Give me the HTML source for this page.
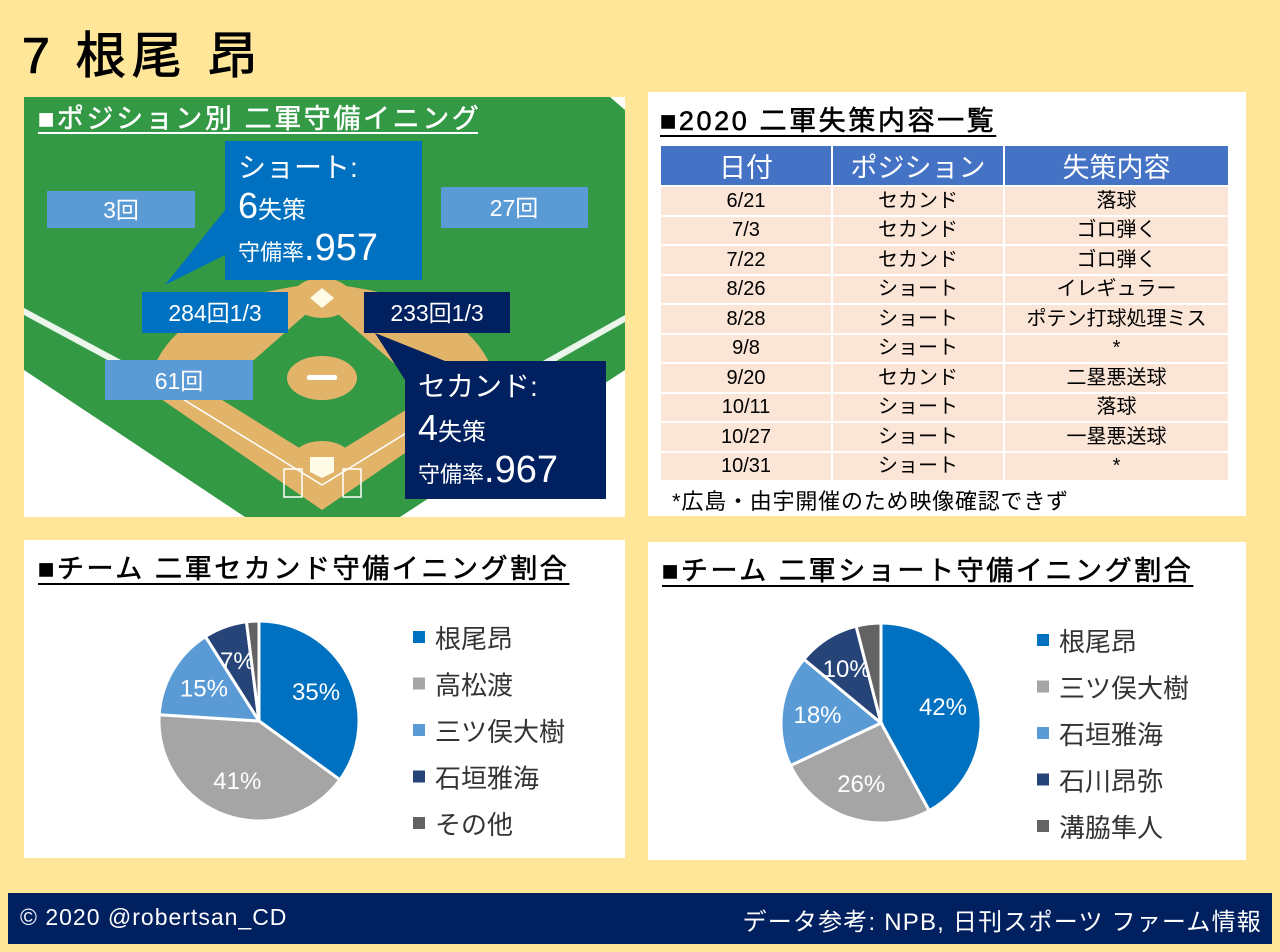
<!DOCTYPE html>
<html><head><meta charset="utf-8">
<style>
body{margin:0;width:1280px;height:952px;background:#ffe699;font-family:"Liberation Sans","Noto Sans CJK JP",sans-serif;overflow:hidden;position:relative}
.abs{position:absolute}
.panel{position:absolute;background:#fff}
.ttl{position:absolute;font-size:27px;letter-spacing:2.6px;font-weight:normal;-webkit-text-stroke:0.6px #000;color:#000;text-decoration:underline;text-decoration-thickness:2px;text-underline-offset:5px;white-space:nowrap}
table{border-collapse:collapse;position:absolute;left:659px;top:144px;width:571px;font-size:20px;text-align:center}
th{background:#4472c4;color:#fff;font-weight:normal;font-size:27px;height:34px;border:2px solid #fff;padding:0}
td{background:#fbe5d6;height:27.5px;border:2px solid #fff;padding:0;line-height:26px}
</style></head><body>
<div class="abs" style="left:22px;top:16px;font-size:50px;-webkit-text-stroke:1px #000;letter-spacing:6px">7 根尾 昂</div>

<svg class="abs" style="left:0;top:0" width="1280" height="952">
 <rect x="24" y="97" width="601" height="420" fill="#fff"/>
 <polygon points="24,97 610,97 625,110 625,370 400,517 245,517 24,370" fill="#339944"/>
 <polygon points="24,315 200,410 205,405 24,308" fill="#fff" opacity="0.9"/>
 <polygon points="625,315 500,385 505,390 625,322" fill="#fff" opacity="0.9"/>
 <path d="M148,390 Q160,300 322,283 Q485,300 497,390 L322,510 Z" fill="#e2b46a"/>
 <polygon points="322,300 430,395 322,462 214,395" fill="#339944"/>
 <ellipse cx="322" cy="298" rx="30" ry="20" fill="#e2b46a"/>
 <ellipse cx="322" cy="378" rx="35" ry="22" fill="#e2b46a"/>
 <rect x="307" y="375" width="30" height="5" rx="2" fill="#fff"/>
 <ellipse cx="322" cy="463" rx="32" ry="22" fill="#e2b46a"/>
 <polygon points="322,288 334,298 322,308 310,298" fill="#fffbe6"/>
 <polygon points="310,457 334,457 334,472 322,478 310,472" fill="#fffbe6"/>
 <rect x="284" y="469" width="18" height="28" fill="none" stroke="#fff" stroke-width="1.5"/>
 <rect x="343" y="469" width="18" height="28" fill="none" stroke="#fff" stroke-width="1.5"/>
 <line x1="322" y1="485" x2="160" y2="385" stroke="#fff" stroke-width="1.5"/>
 <line x1="322" y1="485" x2="484" y2="385" stroke="#fff" stroke-width="1.5"/>
 <text x="38" y="128" font-size="27" letter-spacing="2.6" stroke="#fff" stroke-width="0.5" fill="#fff">■ポジション別 二軍守備イニング</text>
 <rect x="38" y="132" width="440" height="2" fill="#fff"/>
 <g font-size="23" fill="#fff" text-anchor="middle">
  <rect x="47" y="191" width="148" height="37" fill="#5b9bd5"/><text x="121" y="218">3回</text>
  <rect x="441" y="187" width="147" height="41" fill="#5b9bd5"/><text x="514" y="216">27回</text>
  <rect x="105" y="360" width="148" height="40" fill="#5b9bd5"/><text x="179" y="389">61回</text>
  <polygon points="225,141 422,141 422,280 225,280 225,255 165,285 225,210" fill="#0070c0"/>
  <rect x="142" y="292" width="146" height="41" fill="#0070c0"/><text x="215" y="321">284回1/3</text>
  <polygon points="405,361 606,361 606,499 405,499 405,380 375,333 445,361" fill="#002060"/>
  <rect x="364" y="292" width="146" height="41" fill="#002060"/><text x="437" y="321">233回1/3</text>
 </g>
 <g fill="#fff">
  <text x="238" y="177" font-size="28">ショート:</text>
  <text x="238" y="218" font-size="36">6<tspan font-size="24">失策</tspan></text>
  <text x="238" y="260" font-size="22">守備率<tspan font-size="38">.957</tspan></text>
 </g>
 <g fill="#fff">
  <text x="418" y="396" font-size="28">セカンド:</text>
  <text x="418" y="440" font-size="36">4<tspan font-size="24">失策</tspan></text>
  <text x="418" y="482" font-size="22">守備率<tspan font-size="38">.967</tspan></text>
 </g>
</svg>

<div class="panel" style="left:648px;top:92px;width:598px;height:424px"></div>
<div class="ttl" style="left:660px;top:99px">■2020 二軍失策内容一覧</div>
<table>
<tr><th style="width:170px">日付</th><th style="width:170px">ポジション</th><th>失策内容</th></tr>
<tr><td>6/21</td><td>セカンド</td><td>落球</td></tr>
<tr><td>7/3</td><td>セカンド</td><td>ゴロ弾く</td></tr>
<tr><td>7/22</td><td>セカンド</td><td>ゴロ弾く</td></tr>
<tr><td>8/26</td><td>ショート</td><td>イレギュラー</td></tr>
<tr><td>8/28</td><td>ショート</td><td>ポテン打球処理ミス</td></tr>
<tr><td>9/8</td><td>ショート</td><td>*</td></tr>
<tr><td>9/20</td><td>セカンド</td><td>二塁悪送球</td></tr>
<tr><td>10/11</td><td>ショート</td><td>落球</td></tr>
<tr><td>10/27</td><td>ショート</td><td>一塁悪送球</td></tr>
<tr><td>10/31</td><td>ショート</td><td>*</td></tr>
</table>
<div class="abs" style="left:672px;top:484px;font-size:22px;letter-spacing:0.8px">*広島・由宇開催のため映像確認できず</div>

<div class="panel" style="left:24px;top:540px;width:601px;height:318px"></div>
<div class="ttl" style="left:38px;top:547px">■チーム 二軍セカンド守備イニング割合</div>
<div class="panel" style="left:648px;top:542px;width:598px;height:318px"></div>
<div class="ttl" style="left:662px;top:549px">■チーム 二軍ショート守備イニング割合</div>

<svg class="abs" style="left:0;top:0" width="1280" height="952" id="pies"></svg>

<div class="abs" style="left:8px;top:893px;width:1264px;height:51px;background:#002060"></div>
<div class="abs" style="left:20px;top:904px;font-size:23px;letter-spacing:1px;color:#fff">© 2020 @robertsan_CD</div>
<div class="abs" style="right:18px;top:902px;font-size:24px;letter-spacing:1.2px;color:#fff">データ参考: NPB, 日刊スポーツ ファーム情報</div>

<script>
const colors=["#0070c0","#a5a5a5","#5b9bd5","#264478","#636363"];
const secondNames=["根尾昂","高松渡","三ツ俣大樹","石垣雅海","その他"];
const secondValues=[35,41,15,7,2];
const shortNames=["根尾昂","三ツ俣大樹","石垣雅海","石川昂弥","溝脇隼人"];
const shortValues=[42,26,18,10,4];
const shortColors=["#0070c0","#a5a5a5","#5b9bd5","#264478","#636363"];
const NS="http://www.w3.org/2000/svg";
const svg=document.getElementById('pies');
function mk(t,a){const e=document.createElementNS(NS,t);for(const k in a)e.setAttribute(k,a[k]);svg.appendChild(e);return e;}
function pie(cx,cy,r,vals,names,cols,lx,ly,prefix){
 const tot=vals.reduce((a,b)=>a+b,0);let a0=0;
 vals.forEach((v,i)=>{
  const a1=a0+v/tot*2*Math.PI;
  const x0=cx+r*Math.sin(a0),y0=cy-r*Math.cos(a0),x1=cx+r*Math.sin(a1),y1=cy-r*Math.cos(a1);
  const p=mk('path',{d:`M${cx},${cy}L${x0},${y0}A${r},${r} 0 ${a1-a0>Math.PI?1:0} 1 ${x1},${y1}Z`,fill:cols[i],stroke:'#fff','stroke-width':3});
  
  
  if(v>=5){const am=(a0+a1)/2,rr=r*0.64;
   const t=mk('text',{x:cx+rr*Math.sin(am),y:cy-rr*Math.cos(am)+8,'font-size':24,fill:'#fff','text-anchor':'middle'});
   t.textContent=v+'%';
   
   }
  a0=a1;
  const s=mk('rect',{x:lx,y:ly+i*46.5-7,width:12,height:12,fill:cols[i]});
  
  
  const t2=mk('text',{x:lx+22,y:ly+i*46.5+10,'font-size':26,fill:'#333'});
  t2.textContent=names[i];
  
  
 });
}
pie(259,721,100,secondValues,secondNames,colors,413,638,'second-pie');
pie(881,723,100,shortValues,shortNames,shortColors,1037,641,'short-pie');
</script>
</body></html>
